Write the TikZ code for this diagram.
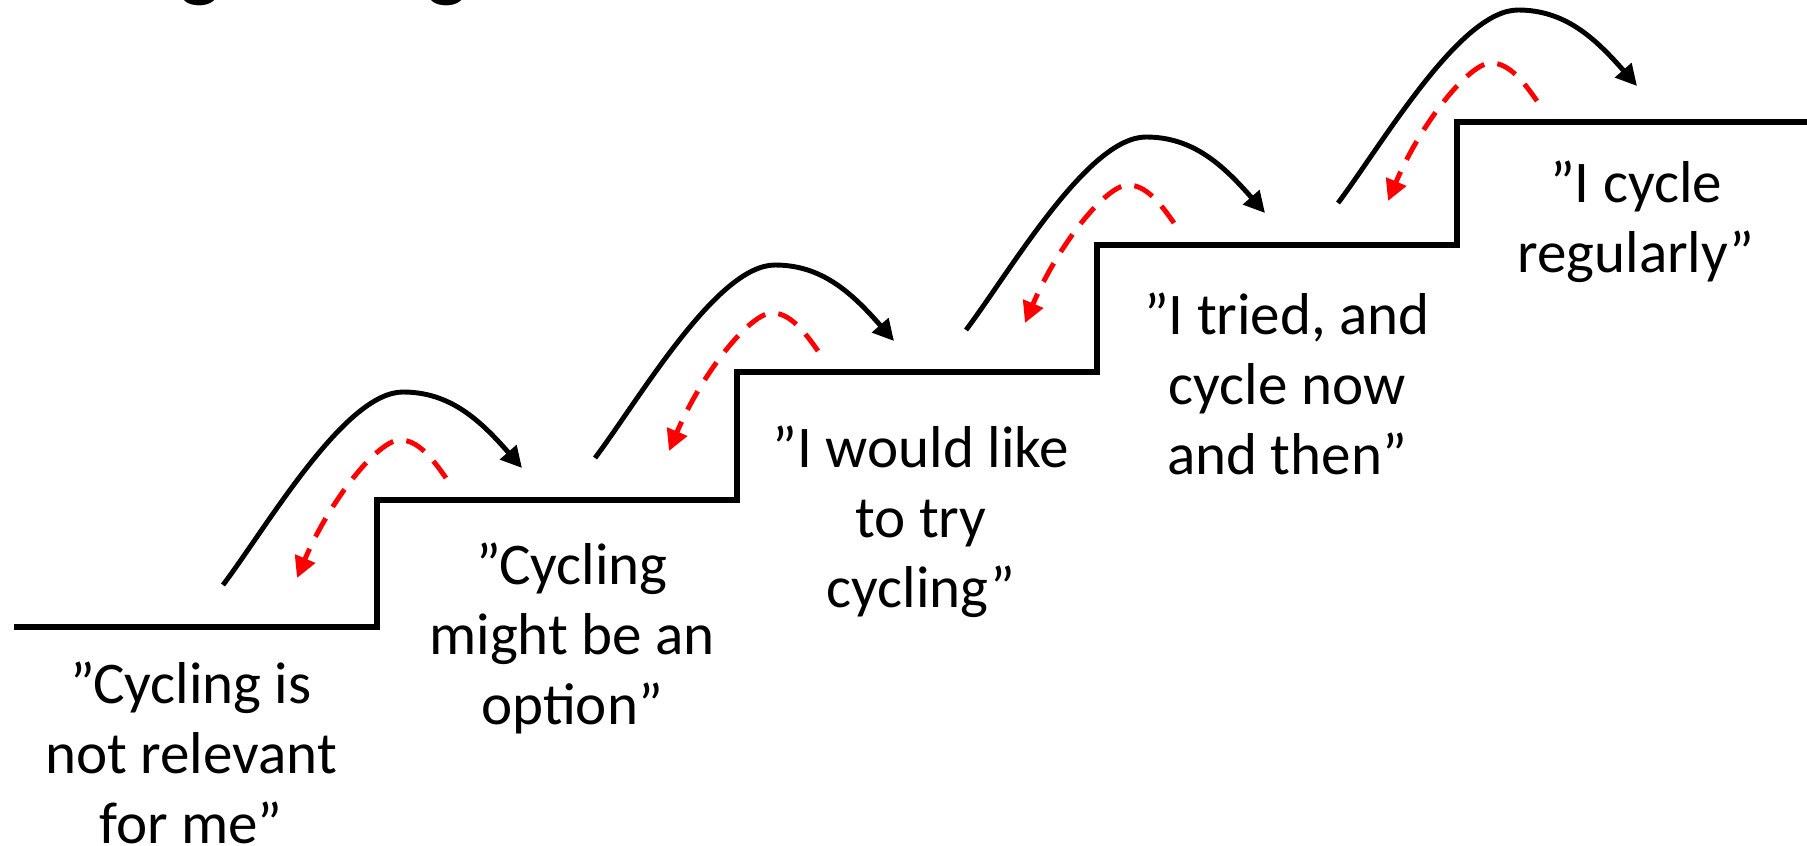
\documentclass[tikz,border=0pt]{standalone}
\usepackage{fontspec}
\setmainfont{Carlito}
\usetikzlibrary{arrows.meta}

\begin{document}
\begin{tikzpicture}[x=0.01cm, y=-0.01cm,
    stair/.style={line width=1.7pt, line join=miter},
    jump/.style={line width=1.4pt, -{Triangle[length=6pt, width=6pt]}},
    fall/.style={red, line width=1.4pt, dash pattern=on 6pt off 3.8pt, -{Triangle[length=6pt, width=6pt]}},
    quote/.style={anchor=base, align=center, inner sep=0pt, font=\fontsize{16.8}{19.9}\selectfont}]
        \useasboundingbox (0,0) rectangle (1807,845);

        % 标题残留 (被裁掉, 只剩 g 的下半部)
        \node[anchor=base, inner sep=0pt, font=\bfseries\fontsize{24}{28}\selectfont] (t1) at (201,-9) {g};
        \node[anchor=base, inner sep=0pt, font=\bfseries\fontsize{24}{28}\selectfont] (t2) at (447,-9) {g};

        % 台阶
        \draw[stair] (14,627) -- (377,627) -- (377,500) -- (737,500) -- (737,372)
            -- (1097,372) -- (1097,245) -- (1457,245) -- (1457,122) -- (1807,122);

        % 向上跳 (黑色实线)
        \draw[jump] (223,585) .. controls (268,525) and (345,392) .. (403,392) .. controls (450,392) and (480,420) .. (522,468);
        \draw[jump] (595,458) .. controls (640,398) and (717,265) .. (775,265) .. controls (822,265) and (852,293) .. (894,341);
        \draw[jump] (966,330) .. controls (1011,270) and (1088,137) .. (1146,137) .. controls (1193,137) and (1223,165) .. (1265,213);
        \draw[jump] (1338,203) .. controls (1383,143) and (1460,10) .. (1518,10) .. controls (1565,10) and (1595,38) .. (1637,86);

        % 退回 (红色虚线)
        \draw[fall] (446,478) .. controls (432,458) and (418,440) .. (400,440) .. controls (378,440) and (330,500) .. (297,578);
        \draw[fall] (818,351) .. controls (804,331) and (790,313) .. (772,313) .. controls (750,313) and (702,373) .. (669,451);
        \draw[fall] (1174,223) .. controls (1160,203) and (1146,185) .. (1128,185) .. controls (1106,185) and (1058,245) .. (1025,323);
        \draw[fall] (1537,101) .. controls (1523,81) and (1509,63) .. (1491,63) .. controls (1469,63) and (1421,123) .. (1388,201);

        % 各阶段的说法 (base = 最后一行的基线)
        \node[quote] (s1) at (191,843) {”Cycling is\\not relevant\\for me”};
        \node[quote] (s2) at (572,724) {”Cycling\\might be an\\option”};
        \node[quote] (s3) at (921,607) {”I would like\\to try\\cycling”};
        \node[quote] (s4) at (1287,474) {”I tried, and\\cycle now\\and then”};
        \node[quote] (s5) at (1636,272) {”I cycle\\regularly”};
\end{tikzpicture}
\end{document}
